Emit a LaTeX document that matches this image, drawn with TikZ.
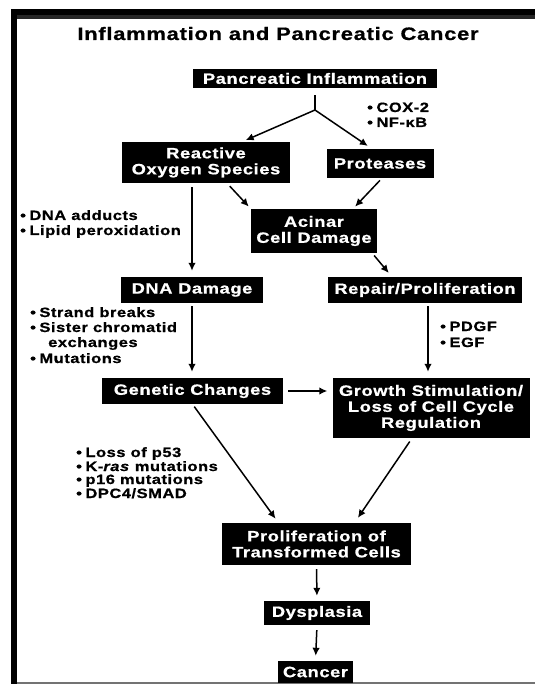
\documentclass[tikz,border=0pt]{standalone}
\usepackage{fontspec}
\setmainfont{Liberation Sans}[FakeStretch=1.22,LetterSpace=4,BoldFeatures={FakeBold=0.8},BoldItalicFeatures={FakeBold=0.8}]
\usetikzlibrary{arrows.meta,calc}
\tikzset{
  blk/.style={fill=black, text=white, inner sep=0pt, align=center, font=\bfseries\fontsize{15}{16}\selectfont},
  note/.style={inner sep=0pt, anchor=base west, font=\bfseries\fontsize{13.5}{15}\selectfont},
  arr/.style={-{Latex[length=8pt,width=7.5pt]}, line width=1.5pt}}
\newcommand\dotitem{\textbullet\hspace{3.5pt}}

\begin{document}
\begin{tikzpicture}[x=1pt,y=-1pt]
\useasboundingbox (0,0) rectangle (535,684);
% frame
\fill[black] (11,9) rectangle (535,15);
\fill[black!85] (11,15) rectangle (535,19.5);
\fill[black] (11,9) rectangle (17,684);
\draw[black!55, line width=1.2pt] (17,683) -- (535,683);

\node[font=\bfseries\fontsize{18}{20}\selectfont, anchor=base, inner sep=0pt] (title) at (278,40) {Inflammation and Pancreatic Cancer};

% boxes
\node[blk, minimum width=244pt, minimum height=19pt] (pancinf) at (315,78.5) {Pancreatic Inflammation};
\node[blk, minimum width=168pt, minimum height=41pt] (ros) at (206,162.5) {Reactive\\Oxygen Species};
\node[blk, minimum width=107pt, minimum height=29pt] (prot) at (380,163.5) {Proteases};
\node[blk, minimum width=126pt, minimum height=44pt] (acinar) at (314,231) {Acinar\\Cell Damage};
\node[blk, minimum width=142pt, minimum height=26pt] (dnadam) at (192,290) {DNA Damage};
\node[blk, minimum width=194pt, minimum height=26pt] (repair) at (425,290) {Repair/Proliferation};
\node[blk, minimum width=181pt, minimum height=26pt] (genetic) at (192.5,391) {Genetic Changes};
\node[blk, minimum width=197pt, minimum height=60pt] (growth) at (431,408) {Growth Stimulation/\\Loss of Cell Cycle\\Regulation};
\node[blk, minimum width=189pt, minimum height=42pt] (prolif) at (316.5,544) {Proliferation of\\Transformed Cells};
\node[blk, minimum width=106pt, minimum height=24pt] (dysplasia) at (317,613) {Dysplasia};
\node[blk, minimum width=75pt, minimum height=22pt] (cancer) at (315.5,672) {Cancer};

% side notes
\node[note] (cox) at (367,112) {\dotitem COX-2};
\node[note] (nfkb) at (367,127) {\dotitem NF-κB};
\node[note] (adducts) at (20,220) {\dotitem DNA adducts};
\node[note] (lipid) at (20,235) {\dotitem Lipid peroxidation};
\node[note] (strand) at (30,317) {\dotitem Strand breaks};
\node[note] (sister) at (30,332) {\dotitem Sister chromatid};
\node[note] (exch) at (48,347) {exchanges};
\node[note] (mutat) at (30,363) {\dotitem Mutations};
\node[note] (pdgf) at (440,331) {\dotitem PDGF};
\node[note] (egf) at (440,347) {\dotitem EGF};
\node[note] (p53) at (76,457) {\dotitem Loss of p53};
\node[note] (kras) at (76,471) {\dotitem K-\textit{ras} mutations};
\node[note] (p16) at (76,484) {\dotitem p16 mutations};
\node[note] (dpc) at (76,498) {\dotitem DPC4/SMAD};

% arrows
\coordinate (split) at (315,110);
\draw[line width=1.5pt, shorten <=7pt] (pancinf) -- (split);
\draw[arr, shorten >=4pt] (split) -- ($(ros.north)+(36,0)$);
\draw[arr, shorten >=5pt] (split) -- ($(prot.north)+(-8,0)$);
\draw[arr, shorten <=4pt, shorten >=6pt] (dnadam.north |- ros.south) -- (dnadam.north);
\draw[arr, shorten <=4pt, shorten >=3pt] ($(ros.south)+(21,0)$) -- (acinar.north west);
\draw[arr, shorten <=3pt, shorten >=3pt] ($(prot.south)+(2,0)$) -- ($(acinar.north)+(39,0)$);
\draw[arr, shorten <=3pt, shorten >=5pt] ($(acinar.south east)+(-5,0)$) -- ($(repair.north)+(-33,0)$);
\draw[arr, shorten <=3pt, shorten >=6pt] (dnadam.south) -- (dnadam.south |- genetic.north);
\draw[arr, shorten <=3pt, shorten >=6pt] ($(repair.south)+(3,0)$) -- ($(repair.south |- growth.north)+(3,0)$);
\draw[arr, shorten <=5pt, shorten >=5pt] (genetic.east) -- (genetic.east -| growth.west);
\draw[arr, shorten <=3pt, shorten >=5pt] (genetic.south) -- ($(prolif.north)+(-38,0)$);
\draw[arr, shorten <=4pt, shorten >=6pt] ($(growth.south)+(-19,0)$) -- ($(prolif.north)+(38,0)$);
\draw[arr, shorten <=4pt, shorten >=5pt] (prolif.south) -- (dysplasia.north);
\draw[arr, shorten <=5pt, shorten >=5pt] (dysplasia.south) -- (cancer.north);
\end{tikzpicture}
\end{document}
